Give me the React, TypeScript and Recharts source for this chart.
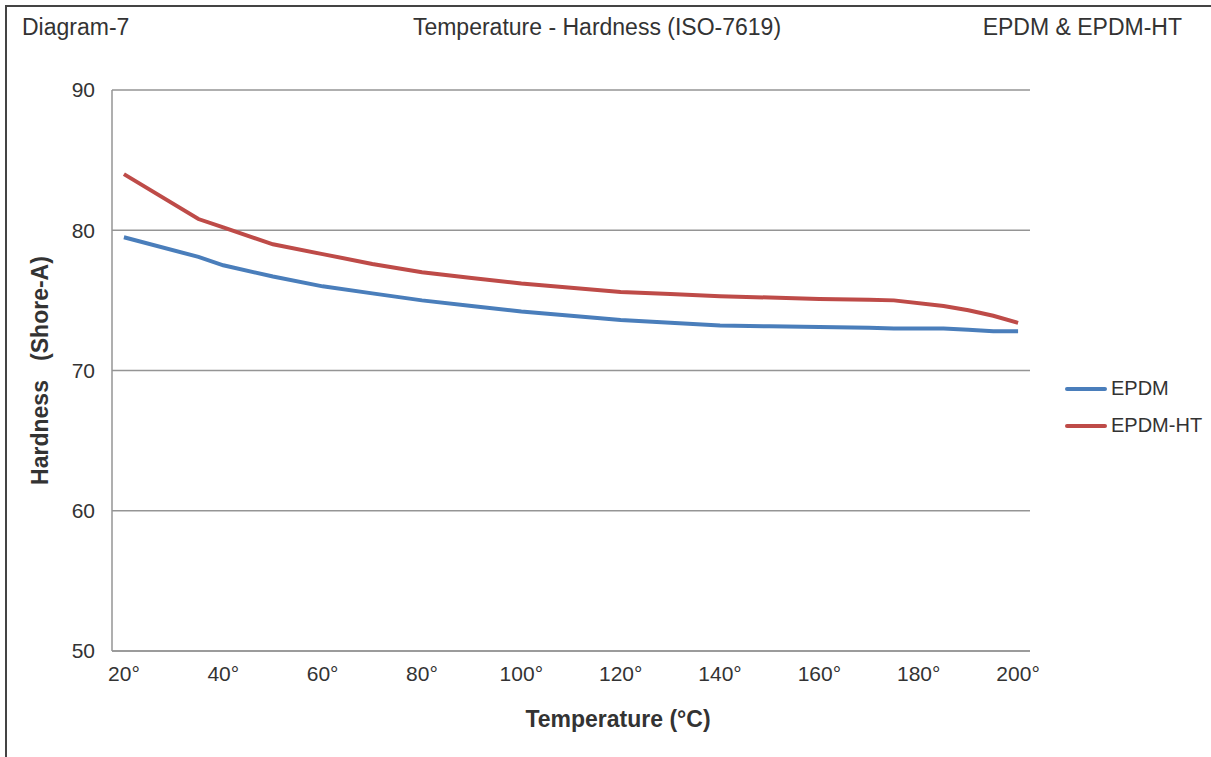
import { LineChart, Line, XAxis, YAxis, CartesianGrid, Legend } from "recharts";

const temperatures = [20, 35, 40, 50, 60, 70, 80, 90, 100, 110, 120, 130, 140, 150, 160, 170, 175, 185, 190, 195, 200];
const epdm = [79.5, 78.1, 77.5, 76.7, 76.0, 75.5, 75.0, 74.6, 74.2, 73.9, 73.6, 73.4, 73.2, 73.15, 73.1, 73.05, 73.0, 73.0, 72.9, 72.8, 72.8];
const epdmHt = [84.0, 80.8, 80.2, 79.0, 78.3, 77.6, 77.0, 76.6, 76.2, 75.9, 75.6, 75.45, 75.3, 75.2, 75.1, 75.05, 75.0, 74.6, 74.3, 73.9, 73.4];
const xTicks = [20, 40, 60, 80, 100, 120, 140, 160, 180, 200];
const yTicks = [50, 60, 70, 80, 90];

const chartData = temperatures.map((t, i) => ({ t, epdm: epdm[i], epdmHt: epdmHt[i] }));

const font = '"Liberation Sans", Arial, Helvetica, sans-serif';
const textColor = "#333";

function LegendBox({ payload }: any) {
  return (
    <div style={{ fontFamily: font, fontSize: 20, color: textColor }}>
      {(payload || []).map((p: any) => (
        <div key={p.value} style={{ display: "flex", alignItems: "center", height: 37 }}>
          <div style={{ width: 42, height: 4, borderRadius: 2, background: p.color, marginRight: 4 }} />
          <span>{p.value}</span>
        </div>
      ))}
    </div>
  );
}

export default function App() {
  return (
    <div style={{ position: "absolute", left: 0, top: 0, width: 1211, height: 757, background: "#fff", overflow: "hidden", fontFamily: font }}>
      <div style={{ position: "absolute", left: 5, top: 5, width: 1400, height: 1000, border: "2px solid #444" }} />
      <div style={{ position: "absolute", left: 22, top: 14, fontSize: 23, color: textColor }}>Diagram-7</div>
      <div style={{ position: "absolute", left: 297, width: 600, top: 14, fontSize: 23, color: textColor, textAlign: "center" }}>
        Temperature - Hardness (ISO-7619)
      </div>
      <div style={{ position: "absolute", right: 29, top: 14, fontSize: 23, color: textColor }}>EPDM &amp; EPDM-HT</div>
      <div style={{ position: "absolute", left: 0, top: 0 }}>
        <LineChart width={1211} height={757} data={chartData} margin={{ top: 90, right: 181, bottom: 0, left: 0 }}>
          <CartesianGrid vertical={false} stroke="#959595" strokeWidth={1.5} />
          <XAxis
            dataKey="t"
            type="number"
            domain={[17.6, 202.4]}
            ticks={xTicks}
            tickFormatter={(v) => `${v}°`}
            tickLine={false}
            axisLine={{ stroke: "#959595", strokeWidth: 1.5 }}
            tick={{ fontSize: 21, fill: textColor, fontFamily: font }}
            tickMargin={9}
            height={106}
            label={{ value: "Temperature (°C)", position: "insideBottom", offset: 30, dx: 47, style: { fontSize: 23, fontWeight: "bold", fill: textColor, fontFamily: font } }}
          />
          <YAxis
            type="number"
            domain={[50, 90]}
            ticks={yTicks}
            tickLine={false}
            axisLine={{ stroke: "#959595", strokeWidth: 1.5 }}
            tick={{ fontSize: 21, fill: textColor, fontFamily: font }}
            tickMargin={11}
            width={112}
            label={{ value: "Hardness\u00a0\u00a0 (Shore-A)", angle: -90, position: "insideLeft", offset: 40, style: { textAnchor: "middle", fontSize: 23, fontWeight: "bold", fill: textColor, fontFamily: font } }}
          />
          <Legend
            layout="vertical"
            align="center"
            verticalAlign="middle"
            content={<LegendBox />}
            wrapperStyle={{ position: "absolute", left: 1065, top: 370, width: 140 }}
          />
          <Line type="linear" dataKey="epdm" name="EPDM" stroke="#4a7ebb" strokeWidth={4} dot={false} isAnimationActive={false} />
          <Line type="linear" dataKey="epdmHt" name="EPDM-HT" stroke="#be4b48" strokeWidth={4} dot={false} isAnimationActive={false} />
        </LineChart>
      </div>
    </div>
  );
}
